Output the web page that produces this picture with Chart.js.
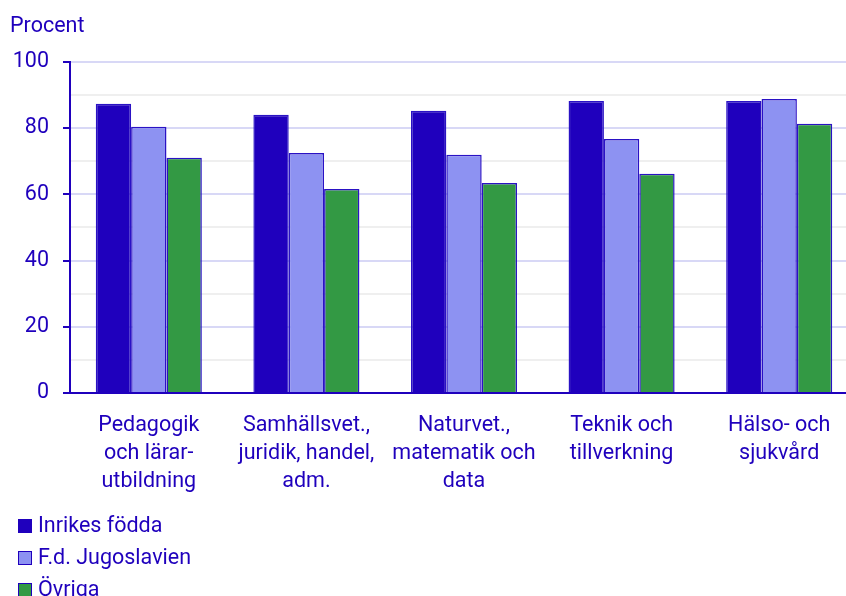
<!DOCTYPE html>
<html>
<head>
<meta charset="utf-8">
<script src="https://cdn.jsdelivr.net/npm/chart.js@4/dist/chart.umd.min.js"></script>
<style>
  html, body { margin: 0; padding: 0; background: #fff; overflow: hidden; width: 846px; height: 596px; }
  #wrap { position: relative; width: 858px; height: 596px; }
  #legend { position: absolute; left: 18px; top: 509px; font-family: Roboto, sans-serif; font-size: 21.5px; color: #1f00bd; }
  .item { display: flex; align-items: center; height: 32px; line-height: 32px; }
  .sw { width: 12px; height: 12px; border: 1px solid #1f00bd; margin-right: 6px; margin-top: 1px; }
</style>
</head>
<body>
<div id="wrap">
  <canvas id="c" width="858" height="596"></canvas>
  <div id="legend"></div>
</div>
<script>
const categories = [
  ["Pedagogik", "och lärar-", "utbildning"],
  ["Samhällsvet.,", "juridik, handel,", "adm."],
  ["Naturvet.,", "matematik och", "data"],
  ["Teknik och", "tillverkning"],
  ["Hälso- och", "sjukvård"]
];
const seriesNames = ["Inrikes födda", "F.d. Jugoslavien", "Övriga"];
const inrikes = [87.3, 84.0, 85.2, 88.2, 88.2];
const jugoslavien = [80.4, 72.5, 71.9, 76.7, 88.8];
const ovriga = [71.0, 61.6, 63.4, 66.2, 81.3];
const colors = ["#1f00bd", "#8d92f2", "#339944"];
const textColor = "#1f00bd";
const FONT = "Roboto, sans-serif";

const values = [inrikes, jugoslavien, ovriga];
const datasets = seriesNames.map((name, i) => ({
  label: name,
  data: values[i],
  backgroundColor: colors[i],
  borderColor: "#2a12c4",
  borderWidth: 1.5,
  categoryPercentage: 0.673,
  barPercentage: 1.0
}));

new Chart(document.getElementById("c"), {
  type: "bar",
  data: { labels: categories, datasets },
  options: {
    responsive: false,
    animation: false,
    layout: { padding: { left: 10, right: 0, top: 0, bottom: 93 } },
    plugins: {
      legend: { display: false },
      tooltip: { enabled: false },
      title: {
        display: true,
        text: "Procent",
        align: "start",
        color: textColor,
        font: { family: FONT, size: 21.5, weight: "normal", lineHeight: 1.2 },
        padding: { top: 14, bottom: 22 }
      }
    },
    scales: {
      x: {
        grid: { display: false, drawTicks: false },
        border: { color: textColor, width: 2 },
        ticks: {
          color: textColor,
          font: { family: FONT, size: 21.5, lineHeight: 1.3 },
          padding: 19,
          maxRotation: 0,
          autoSkip: false
        },
        afterFit: s => { s.height = 110; }
      },
      y: {
        min: 0, max: 100,
        grid: {
          color: c => (c.tick && c.tick.value % 20 === 0) ? "#d8d8f6" : "#efefef",
          lineWidth: 2,
          tickColor: c => (c.tick && c.tick.value % 20 === 0) ? textColor : "rgba(0,0,0,0)",
          tickLength: 7,
          tickWidth: 2
        },
        border: { color: textColor, width: 2 },
        ticks: {
          stepSize: 10,
          color: textColor,
          font: { family: FONT, size: 21.5 },
          padding: 14,
          callback: v => (v % 20 === 0 ? String(v) : "")
        },
        afterFit: s => { s.width = 60; }
      }
    }
  }
});

const leg = document.getElementById("legend");
seriesNames.forEach((n, i) => {
  const d = document.createElement("div");
  d.className = "item";
  const sw = document.createElement("span");
  sw.className = "sw";
  sw.style.background = colors[i];
  const t = document.createElement("span");
  t.textContent = n;
  d.appendChild(sw); d.appendChild(t);
  leg.appendChild(d);
});
</script>
</body>
</html>
